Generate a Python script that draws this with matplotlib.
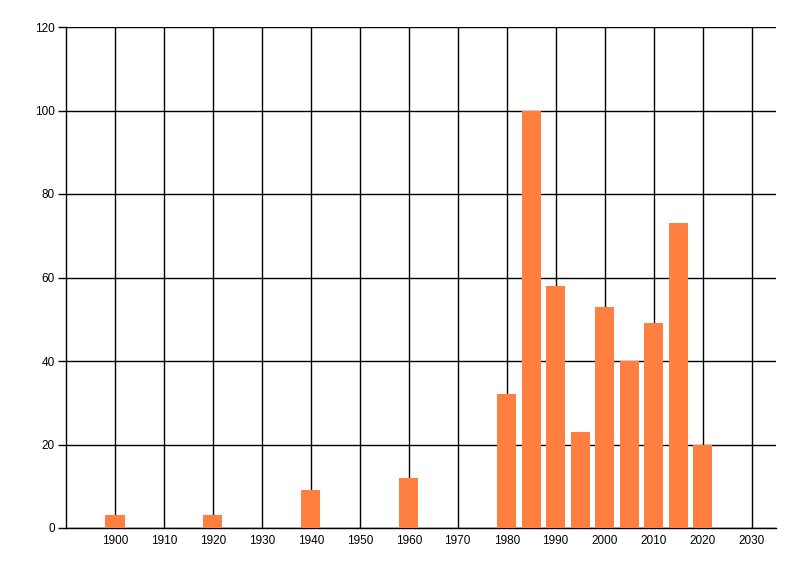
import matplotlib
matplotlib.use("Agg")
import matplotlib.pyplot as plt

years = [1900, 1920, 1940, 1960, 1980, 1985, 1990, 1995, 2000, 2005, 2010, 2015, 2020]
counts = [3, 3, 9, 12, 32, 100, 58, 23, 53, 40, 49, 73, 20]
x_ticks = list(range(1900, 2031, 10))
y_ticks = list(range(0, 121, 20))

plt.rcParams['font.family'] = ['Liberation Sans', 'DejaVu Sans']
plt.rcParams['font.size'] = 8.5

fig = plt.figure(figsize=(8, 5.76), dpi=100)
ax = fig.add_axes([66 / 800, 1 - 528 / 576, 710 / 800, 501 / 576])

ax.bar(years, counts, width=3.9, color='#ff7f41', zorder=3)

ax.set_xlim(1890, 2035)
ax.set_ylim(0, 120)
ax.set_xticks(x_ticks)
ax.set_yticks(y_ticks)
ax.grid(True, color='black', linewidth=1, zorder=0)
ax.set_axisbelow(True)

for side in ['top', 'right']:
    ax.spines[side].set_visible(False)
ax.spines['left'].set_linewidth(1)
ax.spines['bottom'].set_linewidth(1)

ax.tick_params(axis='x', length=0, pad=5, labelsize=8.5)
ax.tick_params(axis='y', length=6, width=1, pad=2, labelsize=8.5)

fig.savefig("out.png", dpi=100)
